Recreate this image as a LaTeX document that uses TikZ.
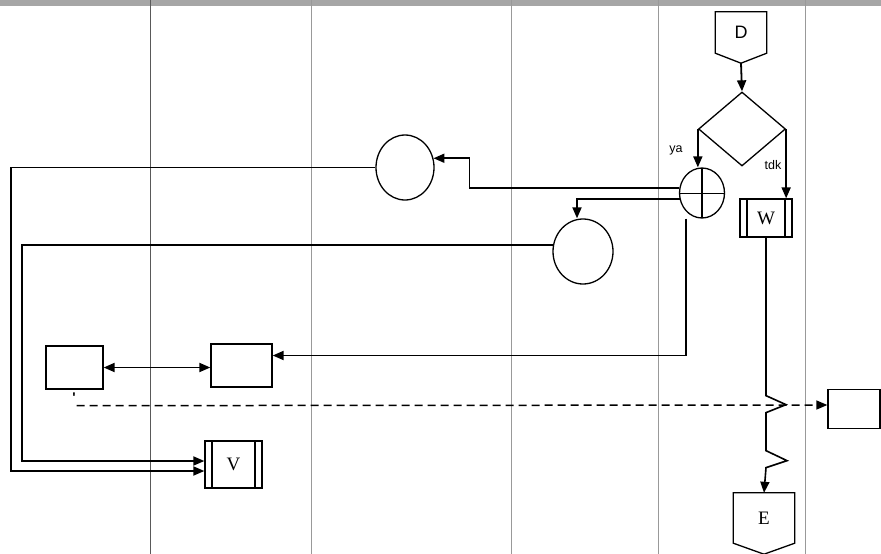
\documentclass[tikz,border=0pt]{standalone}
\usepackage{fontspec}
\setmainfont{Liberation Serif}
\setsansfont{Liberation Sans}
\usetikzlibrary{positioning,arrows.meta,calc,shapes.geometric}

\begin{document}
\begin{tikzpicture}[
  x=1pt, y=-1pt,
  >={Triangle[length=11pt,width=9pt]},
  line/.style={line width=1.8pt},
  lane/.style={line width=1pt, black!40},
  shp/.style={line width=1.3pt},
  blk/.style={draw, line width=1.3pt, inner sep=0pt},
  opg/.style={inner sep=0pt},
  lbl/.style={font=\sffamily\fontsize{12.5}{14}\selectfont, inner sep=0pt},
  circ/.style={draw, ellipse, line width=1.3pt, inner sep=0pt},
  dec/.style={draw, diamond, line width=1.3pt, inner sep=0pt,
              minimum width=87pt, minimum height=74pt},
  proc/.style={draw, line width=1.3pt, inner sep=0pt, font=\fontsize{19}{21}\selectfont,
    path picture={%
      \draw[line width=1.3pt] ([xshift=7pt]path picture bounding box.north west)
                           -- ([xshift=7pt]path picture bounding box.south west);
      \draw[line width=1.3pt] ([xshift=-7pt]path picture bounding box.north east)
                           -- ([xshift=-7pt]path picture bounding box.south east);}},
  sum/.style={draw, ellipse, line width=1.3pt, inner sep=0pt,
              minimum width=45pt, minimum height=50pt,
    path picture={%
      \draw[line width=1pt] (path picture bounding box.west)
                         -- (path picture bounding box.east);
      \draw[line width=1.8pt] (path picture bounding box.north)
                           -- (path picture bounding box.south);}}
]
\useasboundingbox (0,0) rectangle (881,554);

% ---------- lajur (swimlane) ----------
\fill[black!35] (0,0) rectangle (881,6);
\draw[lane, black!65] (150,0) -- (150,554);
\foreach \lx in {311,511,658,805}
  \draw[lane] (\lx,0) -- (\lx,554);

% ---------- node ----------
\node[opg, minimum width=51pt, minimum height=41pt,
      font=\sffamily\fontsize{18}{20}\selectfont] (d) at (741,32.5) {D};
\node[dec]  (cek) at (742,129) {};
\node[sum]  (sum) at (702,193) {};
\node[proc, minimum width=52pt, minimum height=38pt] (w) at (766,218) {W};
\node[circ, minimum width=58pt, minimum height=65pt] (c1) at (405,167.5) {};
\node[circ, minimum width=60pt, minimum height=65pt] (c2) at (583,251.5) {};
\node[blk, minimum width=57pt, minimum height=43pt] (b1) at (74.5,367.5) {};
\node[blk, minimum width=61pt, minimum height=43pt] (b2) at (241.5,365.5) {};
\node[blk, minimum width=52pt, minimum height=39pt] (b3) at (854,409) {};
\node[proc, minimum width=57pt, minimum height=47pt] (v) at (233.5,464.5) {V};
\node[opg, minimum width=61pt, minimum height=50pt,
      font=\fontsize{19}{21}\selectfont] (e) at (764,518) {E};

\node[lbl] (ya)  at (676,150) {ya};
\node[lbl] (tdk) at (773,165) {tdk};
\node[font=\sffamily\bfseries\fontsize{14}{16}\selectfont, inner sep=0pt,
      anchor=north] (tk) at (74,393) {\textquotesingle};

% ---------- bentuk off-page ----------
\draw[shp] (d.south west) -- (d.north west) -- (d.north east) -- (d.south east)
           -- ([yshift=-10pt]d.south) -- cycle;
\coordinate (dtip) at ([yshift=-10pt]d.south);
\draw[shp] (e.south west) -- (e.north west) -- (e.north east) -- (e.south east)
           -- ([yshift=-11pt]e.south) -- cycle;

% ---------- alur utama ----------
\draw[line, ->] (dtip) -- (cek.north);
\draw[line, ->] (cek.west) -- (cek.west |- sum.north);        % ya
\draw[line, ->] (cek.east) -- (cek.east |- w.north);          % tdk

% ---------- cabang dari sum ----------
\draw[line, ->] (sum.167) -| ([xshift=36pt]c1.18) -- (c1.18);
\draw[line, ->] (sum.195) -| ([xshift=-6pt]c2.north);
\draw[line, ->] ([xshift=-16pt]sum.south) |- ([yshift=10pt]b2.east);
\draw[line, <->] (b1.east) -- (b1.east -| b2.west);

% ---------- ke V ----------
\draw[line, ->] (c1.west) -| ([xshift=-193pt,yshift=-6.5pt]v.west)
                -- ([yshift=-6.5pt]v.west);
\draw[line, ->] (c2.168) -| ([xshift=-182pt,yshift=3.5pt]v.west)
                -- ([yshift=3.5pt]v.west);

% ---------- W ke E (zigzag) ----------
\draw[line, line width=1.6pt, ->] (w.south) -- ++(0,158) -- ++(20,9) -- ++(-20,8)
      -- ++(0,38) -- ++(21,10) -- ++(-21,7) -- (e.north);

% ---------- garis putus-putus ----------
\draw[line, line width=1.5pt, dash pattern=on 8pt off 5pt, ->]
      ([xshift=2pt,yshift=-16pt]b1.south) -- ([yshift=4pt]b3.west);

\end{tikzpicture}
\end{document}
